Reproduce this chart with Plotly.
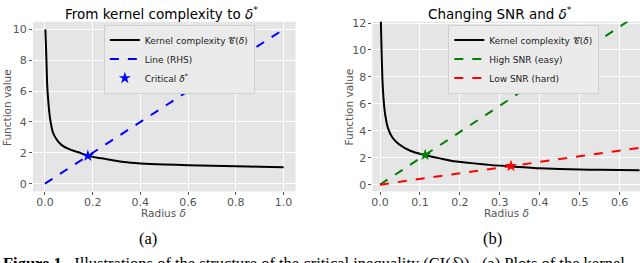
import plotly.graph_objects as go

# ---- data ----
delta_a = [0.002, 0.0055, 0.0097, 0.015, 0.021, 0.034, 0.05, 0.062, 0.08, 0.097, 0.12,
           0.138, 0.16, 0.18, 0.22, 0.25, 0.29, 0.33, 0.4, 0.5, 0.6, 0.7, 0.8, 0.9, 1.0]
kernel_a = [10.0, 8.5, 6.4, 5.2, 4.3, 3.3, 2.85, 2.62, 2.4, 2.27, 2.13,
            2.05, 1.92, 1.8, 1.68, 1.62, 1.5, 1.4, 1.31, 1.24, 1.2, 1.16, 1.13, 1.1, 1.07]
rhs_x = [0.0, 1.0]
rhs_y = [0.0, 10.0]
crit_a_x = [0.18]
crit_a_y = [1.8]

delta_b = [0.001, 0.004, 0.0067, 0.012, 0.02, 0.031, 0.0475, 0.077, 0.11, 0.15, 0.177,
           0.235, 0.28, 0.326, 0.4, 0.5, 0.55, 0.65]
kernel_b = [13.5, 9.8, 7.4, 5.4, 4.2, 3.5, 3.0, 2.5, 2.22, 1.95, 1.78,
            1.58, 1.45, 1.36, 1.22, 1.12, 1.1, 1.07]
high_x = [0.0, 0.65]
high_y = [0.0, 12.7]
low_x = [0.0, 0.65]
low_y = [0.0, 2.74]
crit_high_x = [0.113]
crit_high_y = [2.2]
crit_low_x = [0.328]
crit_low_y = [1.38]

W, H = 640, 263
FONT = "DejaVu Sans"
GRAY = "#555555"

fig = go.Figure()

# left panel
fig.add_trace(go.Scatter(x=delta_a, y=kernel_a, mode="lines", name="Kernel complexity 𝒞(<i>δ</i>)",
                         line=dict(color="black", width=2, shape="spline", smoothing=0.6),
                         xaxis="x", yaxis="y", legend="legend"))
fig.add_trace(go.Scatter(x=rhs_x, y=rhs_y, mode="lines", name="Line (RHS)",
                         line=dict(color="#0000FF", width=2, dash="dash"),
                         xaxis="x", yaxis="y", legend="legend"))
fig.add_trace(go.Scatter(x=crit_a_x, y=crit_a_y, mode="markers", name="Critical <i>δ</i><sup>*</sup>",
                         marker=dict(symbol="star", color="#0000FF", size=9),
                         xaxis="x", yaxis="y", legend="legend"))

# right panel
fig.add_trace(go.Scatter(x=delta_b, y=kernel_b, mode="lines", name="Kernel complexity 𝒞(<i>δ</i>)",
                         line=dict(color="black", width=2, shape="spline", smoothing=0.6),
                         xaxis="x2", yaxis="y2", legend="legend2"))
fig.add_trace(go.Scatter(x=high_x, y=high_y, mode="lines", name="High SNR (easy)",
                         line=dict(color="#008000", width=2, dash="dash"),
                         xaxis="x2", yaxis="y2", legend="legend2"))
fig.add_trace(go.Scatter(x=low_x, y=low_y, mode="lines", name="Low SNR (hard)",
                         line=dict(color="#FF0000", width=2, dash="dash"),
                         xaxis="x2", yaxis="y2", legend="legend2"))
fig.add_trace(go.Scatter(x=crit_high_x, y=crit_high_y, mode="markers", showlegend=False,
                         marker=dict(symbol="star", color="#008000", size=9),
                         xaxis="x2", yaxis="y2"))
fig.add_trace(go.Scatter(x=crit_low_x, y=crit_low_y, mode="markers", showlegend=False,
                         marker=dict(symbol="star", color="#FF0000", size=9),
                         xaxis="x2", yaxis="y2"))

ydom = [(H - 190) / H, (H - 17) / H]
axis_common = dict(showgrid=True, gridcolor="white", gridwidth=1, zeroline=False,
                   ticks="outside", ticklen=3, tickcolor=GRAY, showline=False,
                   tickfont=dict(family=FONT, size=11, color=GRAY))

fig.update_layout(
    width=W, height=H,
    margin=dict(l=0, r=0, t=0, b=0),
    paper_bgcolor="white",
    plot_bgcolor="#E5E5E5",
    font=dict(family=FONT),
    xaxis=dict(domain=[32 / W, 295 / W], range=[-0.05, 1.05],
               tickvals=[0, 0.2, 0.4, 0.6, 0.8, 1.0], ticktext=["0.0", "0.2", "0.4", "0.6", "0.8", "1.0"],
               anchor="y", ticklabelstandoff=-3, **axis_common),
    yaxis=dict(domain=ydom, range=[-0.5, 10.5], tickvals=[0, 2, 4, 6, 8, 10],
               anchor="x", **axis_common),
    xaxis2=dict(domain=[372 / W, 1.0], range=[-0.019, 0.651],
                tickvals=[0, 0.1, 0.2, 0.3, 0.4, 0.5, 0.6],
                ticktext=["0.0", "0.1", "0.2", "0.3", "0.4", "0.5", "0.6"],
                anchor="y2", ticklabelstandoff=-3, **axis_common),
    yaxis2=dict(domain=ydom, range=[-0.5, 12.1], tickvals=[0, 2, 4, 6, 8, 10, 12],
                anchor="x2", **axis_common),
    legend=dict(x=103 / W, y=1 - 20 / H, xanchor="left", yanchor="top",
                bgcolor="#EBEBEB", bordercolor="#D0D0D0", borderwidth=1,
                font=dict(family=FONT, size=9, color="#222222"),
                itemwidth=30, tracegroupgap=0),
    legend2=dict(x=448 / W, y=1 - 20 / H, xanchor="left", yanchor="top",
                 bgcolor="#EBEBEB", bordercolor="#D0D0D0", borderwidth=1,
                 font=dict(family=FONT, size=9, color="#222222"),
                 itemwidth=30, tracegroupgap=0),
)

ann = []
def px(xp, yp):
    return xp / W, 1 - yp / H

def add(text, xp, yp, size, color="black", family=FONT, angle=0, xanchor="center"):
    x, y = px(xp, yp)
    ann.append(dict(text=text, x=x, y=y, xref="paper", yref="paper", showarrow=False,
                    xanchor=xanchor, yanchor="middle", textangle=angle,
                    font=dict(family=family, size=size, color=color)))

add("From kernel complexity to <i>δ</i><sup>*</sup>", 161, 8, 13.5)
add("Changing SNR and <i>δ</i><sup>*</sup>", 500, 8, 13.5)
add("Function value", 6, 104, 10.5, color=GRAY, angle=-90)
add("Function value", 349, 104, 10.5, color=GRAY, angle=-90)
add("Radius <i>δ</i>", 163, 212, 10.5, color=GRAY)
add("Radius <i>δ</i>", 506, 212, 10.5, color=GRAY)
add("(a)", 147, 238, 16.5, family="Liberation Serif")
add("(b)", 492, 238, 16.5, family="Liberation Serif")
add("<b>Figure 1.</b>  Illustrations of the structure of the critical inequality (CI(<i>δ</i>)).  (a) Plots of the kernel",
    0, 263, 16.5, family="Liberation Serif", xanchor="left")
fig.update_layout(annotations=ann)

fig.write_html("out.html", config={"displayModeBar": False},
               post_script="document.body.style.margin='0';document.body.style.overflow='hidden';")
